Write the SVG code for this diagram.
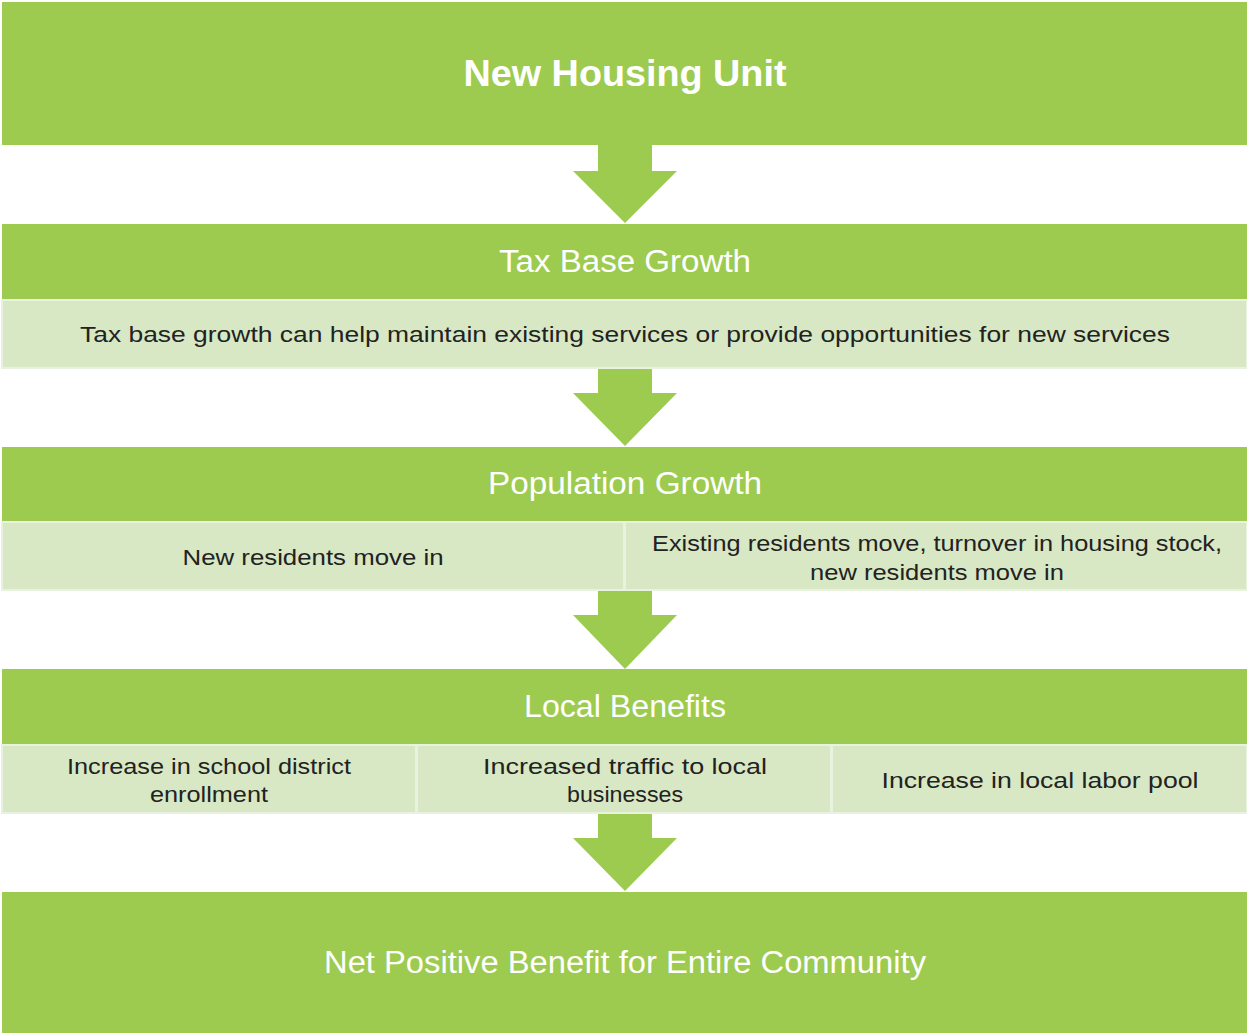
<svg xmlns="http://www.w3.org/2000/svg" width="1247" height="1033" viewBox="0 0 1247 1033">
<style>
.hdr{fill:#9DCB4F}
.sub{fill:#D8E8C4;stroke:#E9F2DF;stroke-width:2}
.arr{fill:#9DCB4F}
.tw{font-family:"Liberation Sans",Arial,sans-serif;fill:#ffffff;text-anchor:middle}
.td{font-family:"Liberation Sans",Arial,sans-serif;fill:#222222;text-anchor:middle;font-size:22px}
</style>
<rect width="1247" height="1033" fill="#ffffff"/>
<g id="connectors">
<polygon class="arr" points="598,145 652,145 652,171 677,171 625,223 573,171 598,171"/>
<polygon class="arr" points="598,369 652,369 652,393 677,393 625,446 573,393 598,393"/>
<polygon class="arr" points="598,591 652,591 652,615 677,615 625,669 573,615 598,615"/>
<polygon class="arr" points="598,814 652,814 652,838 677,838 625,891 573,838 598,838"/>
</g>
<g id="node-new-housing">
<rect class="hdr" x="2" y="2" width="1245" height="143"/>
<text class="tw" x="625" y="86" font-size="36" font-weight="bold" textLength="323" lengthAdjust="spacingAndGlyphs">New Housing Unit</text>
</g>
<g id="node-tax-base">
<rect class="hdr" x="2" y="224" width="1245" height="76"/>
<text class="tw" x="625" y="272" font-size="31" textLength="252" lengthAdjust="spacingAndGlyphs">Tax Base Growth</text>
</g>
<g id="node-tax-desc">
<rect class="sub" x="2" y="300" width="1245" height="68"/>
<text class="td" x="625" y="342" textLength="1090" lengthAdjust="spacingAndGlyphs">Tax base growth can help maintain existing services or provide opportunities for new services</text>
</g>
<g id="node-population">
<rect class="hdr" x="2" y="447" width="1245" height="75"/>
<text class="tw" x="625" y="494" font-size="31" textLength="274" lengthAdjust="spacingAndGlyphs">Population Growth</text>
</g>
<g id="node-new-residents">
<rect class="sub" x="2" y="522" width="622" height="68"/>
<text class="td" x="313" y="565" textLength="261" lengthAdjust="spacingAndGlyphs">New residents move in</text>
</g>
<g id="node-existing-residents">
<rect class="sub" x="625" y="522" width="622" height="68"/>
<text class="td" x="937" y="551" textLength="570" lengthAdjust="spacingAndGlyphs">Existing residents move, turnover in housing stock,</text>
<text class="td" x="937" y="580" textLength="254" lengthAdjust="spacingAndGlyphs">new residents move in</text>
</g>
<g id="node-local-benefits">
<rect class="hdr" x="2" y="669" width="1245" height="75"/>
<text class="tw" x="625" y="717" font-size="31" textLength="202" lengthAdjust="spacingAndGlyphs">Local Benefits</text>
</g>
<g id="node-school">
<rect class="sub" x="2" y="745" width="414" height="68"/>
<text class="td" x="209" y="774" textLength="284" lengthAdjust="spacingAndGlyphs">Increase in school district</text>
<text class="td" x="209" y="802" textLength="118" lengthAdjust="spacingAndGlyphs">enrollment</text>
</g>
<g id="node-traffic">
<rect class="sub" x="417" y="745" width="414" height="68"/>
<text class="td" x="625" y="774" textLength="284" lengthAdjust="spacingAndGlyphs">Increased traffic to local</text>
<text class="td" x="625" y="802" textLength="116" lengthAdjust="spacingAndGlyphs">businesses</text>
</g>
<g id="node-labor">
<rect class="sub" x="832" y="745" width="415" height="68"/>
<text class="td" x="1040" y="788" textLength="317" lengthAdjust="spacingAndGlyphs">Increase in local labor pool</text>
</g>
<g id="node-net-positive">
<rect class="hdr" x="2" y="892" width="1245" height="141"/>
<text class="tw" x="625" y="973" font-size="31" textLength="602" lengthAdjust="spacingAndGlyphs">Net Positive Benefit for Entire Community</text>
</g>
</svg>
